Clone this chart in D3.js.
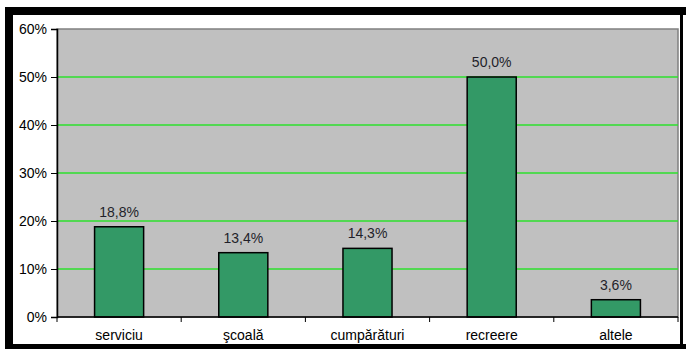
<!DOCTYPE html>
<html>
<head>
<meta charset="utf-8">
<script src="https://cdn.jsdelivr.net/npm/d3@7"></script>
<style>
  html, body { margin: 0; padding: 0; background: #fff; }
  svg { display: block; }
  text { font-family: "Liberation Sans", Arial, sans-serif; }
</style>
</head>
<body>
<script>
// Trip purposes and their shares (%)
const categories = ["serviciu", "şcoală", "cumpărături", "recreere", "altele"];
const values = [18.8, 13.4, 14.3, 50.0, 3.6];
const yTicks = [0, 10, 20, 30, 40, 50, 60];

const width = 686, height = 349;
const margin = { left: 57, top: 29 };
const plotRight = 678, plotBottom = 317;
const fontSize = 14;

const svg = d3.select("body").append("svg")
  .attr("width", width).attr("height", height);

// outer frame
svg.append("rect").attr("x", 0).attr("y", 0).attr("width", width).attr("height", height).attr("fill", "#fff");
svg.append("rect").attr("x", 5).attr("y", 7).attr("width", 681).attr("height", 8).attr("fill", "#000");
svg.append("rect").attr("x", 5).attr("y", 7).attr("width", 8).attr("height", 342).attr("fill", "#000");
svg.append("rect").attr("x", 5).attr("y", 344).attr("width", 681).attr("height", 5).attr("fill", "#000");
svg.append("rect").attr("x", 680).attr("y", 7).attr("width", 3).attr("height", 342).attr("fill", "#000");

const x = d3.scaleBand()
  .domain(categories)
  .range([margin.left, plotRight])
  .paddingInner(0.605)
  .paddingOuter(0.3025);

const y = d3.scaleLinear()
  .domain([0, 60])
  .range([plotBottom, margin.top]);

// plot area
svg.append("rect")
  .attr("x", margin.left).attr("y", margin.top)
  .attr("width", plotRight - margin.left).attr("height", plotBottom - margin.top)
  .attr("fill", "#c0c0c0")
  .attr("stroke", "#808080").attr("stroke-width", 1.5);

// gridlines
svg.append("g").selectAll("line")
  .data(yTicks.filter(d => d > 0 && d < 60))
  .join("line")
  .attr("x1", margin.left).attr("x2", plotRight)
  .attr("y1", d => y(d)).attr("y2", d => y(d))
  .attr("stroke", "#2ee02e").attr("stroke-width", 1.3);

// bars
svg.append("g").selectAll("rect")
  .data(values)
  .join("rect")
  .attr("x", (d, i) => x(categories[i]))
  .attr("y", d => y(d))
  .attr("width", x.bandwidth())
  .attr("height", d => y(0) - y(d))
  .attr("fill", "#339966")
  .attr("stroke", "#000").attr("stroke-width", 1.5);

// value labels
const fmt = d => d.toFixed(1).replace(".", ",") + "%";
svg.append("g").selectAll("text")
  .data(values)
  .join("text")
  .attr("x", (d, i) => x(categories[i]) + x.bandwidth() / 2)
  .attr("y", d => y(d) - 10)
  .attr("text-anchor", "middle")
  .attr("font-size", fontSize)
  .attr("fill", "#1f1f2a")
  .text(fmt);

// y axis
const yAxis = d3.axisLeft(y).tickValues(yTicks).tickFormat(d => d + "%").tickSize(6).tickPadding(4);
const gy = svg.append("g").attr("transform", `translate(${margin.left},0)`).call(yAxis);
gy.select(".domain").attr("stroke", "#000").attr("stroke-width", 1.5);
gy.selectAll(".tick line").attr("stroke", "#000");
gy.selectAll(".tick text").attr("font-size", fontSize).attr("fill", "#000")
  .attr("font-family", "'Liberation Sans', Arial, sans-serif");

// x axis: baseline, category separators, labels
const gx = svg.append("g");
gx.append("line")
  .attr("x1", margin.left).attr("x2", plotRight)
  .attr("y1", plotBottom).attr("y2", plotBottom)
  .attr("stroke", "#000").attr("stroke-width", 1.5);
const step = x.step();
gx.selectAll("line.sep")
  .data(d3.range(categories.length + 1))
  .join("line").attr("class", "sep")
  .attr("x1", i => margin.left + i * step).attr("x2", i => margin.left + i * step)
  .attr("y1", plotBottom).attr("y2", plotBottom + 5)
  .attr("stroke", "#000");
gx.selectAll("text")
  .data(categories)
  .join("text")
  .attr("x", d => x(d) + x.bandwidth() / 2)
  .attr("y", 340)
  .attr("text-anchor", "middle")
  .attr("font-size", fontSize)
  .attr("fill", "#000")
  .text(d => d);
</script>
</body>
</html>
